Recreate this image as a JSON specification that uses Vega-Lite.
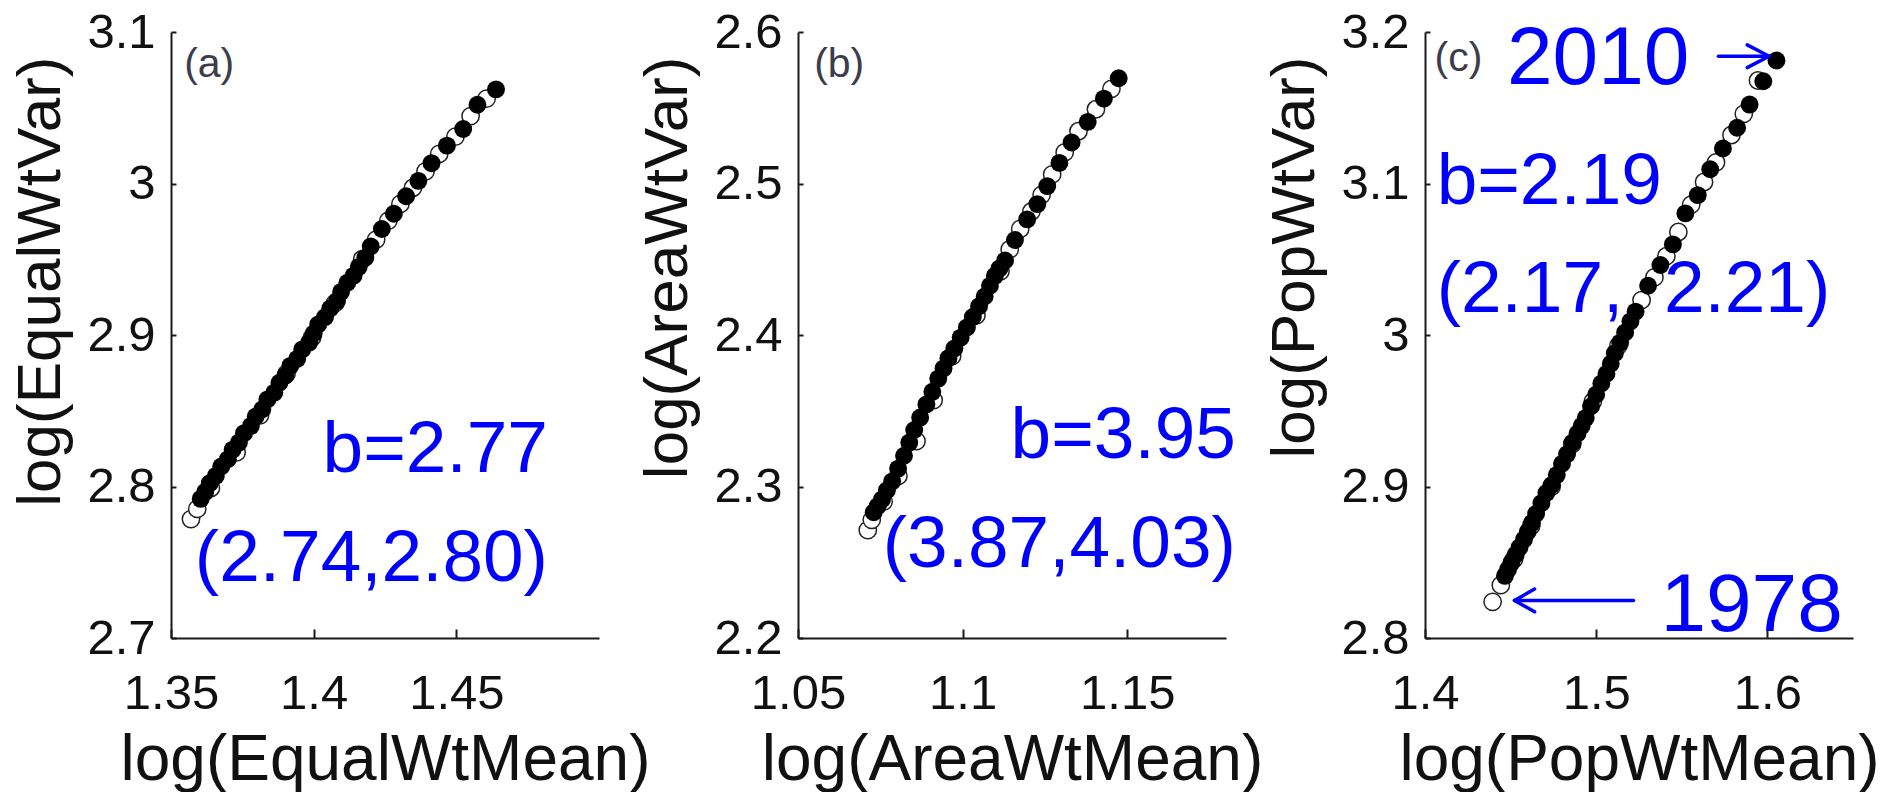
{
  "$schema": "https://vega.github.io/schema/vega-lite/v6.json",
  "background": "white",
  "padding": {"left": 8, "top": 8, "right": 0, "bottom": 0},
  "spacing": 199,
  "bounds": "flush",
  "datasets": {
    "a": [
      {"m": 1.3570, "v": 2.7785, "s": "o"}, {"m": 1.3592, "v": 2.7852, "s": "o"}, {"m": 1.3640, "v": 2.7990, "s": "o"},
      {"m": 1.3730, "v": 2.8225, "s": "o"}, {"m": 1.3812, "v": 2.8470, "s": "o"}, {"m": 1.3905, "v": 2.8745, "s": "o"},
      {"m": 1.3995, "v": 2.8985, "s": "o"}, {"m": 1.4075, "v": 2.9210, "s": "o"}, {"m": 1.4170, "v": 2.9500, "s": "o"},
      {"m": 1.4219, "v": 2.9630, "s": "o"}, {"m": 1.4262, "v": 2.9755, "s": "o"}, {"m": 1.4304, "v": 2.9865, "s": "o"},
      {"m": 1.4348, "v": 2.9972, "s": "o"}, {"m": 1.4392, "v": 3.0080, "s": "o"}, {"m": 1.4440, "v": 3.0195, "s": "o"},
      {"m": 1.4497, "v": 3.0310, "s": "o"}, {"m": 1.4550, "v": 3.0445, "s": "o"}, {"m": 1.4606, "v": 3.0560, "s": "o"},
      {"m": 1.4639, "v": 3.0621, "s": "f"}, {"m": 1.4574, "v": 3.0520, "s": "f"}, {"m": 1.4524, "v": 3.0360, "s": "f"},
      {"m": 1.4467, "v": 3.0250, "s": "f"}, {"m": 1.4413, "v": 3.0134, "s": "f"}, {"m": 1.4367, "v": 3.0017, "s": "f"},
      {"m": 1.4324, "v": 2.9916, "s": "f"}, {"m": 1.4281, "v": 2.9800, "s": "f"}, {"m": 1.4239, "v": 2.9700, "s": "f"},
      {"m": 1.4200, "v": 2.9585, "s": "f"}, {"m": 1.4181, "v": 2.9510, "s": "f"}, {"m": 1.4158, "v": 2.9450, "s": "f"},
      {"m": 1.4140, "v": 2.9392, "s": "f"}, {"m": 1.4118, "v": 2.9345, "s": "f"}, {"m": 1.4096, "v": 2.9285, "s": "f"},
      {"m": 1.4082, "v": 2.9225, "s": "f"}, {"m": 1.4058, "v": 2.9175, "s": "f"}, {"m": 1.4040, "v": 2.9118, "s": "f"},
      {"m": 1.4016, "v": 2.9070, "s": "f"}, {"m": 1.4000, "v": 2.9010, "s": "f"}, {"m": 1.3984, "v": 2.8950, "s": "f"},
      {"m": 1.3960, "v": 2.8905, "s": "f"}, {"m": 1.3942, "v": 2.8842, "s": "f"}, {"m": 1.3918, "v": 2.8796, "s": "f"},
      {"m": 1.3901, "v": 2.8732, "s": "f"}, {"m": 1.3880, "v": 2.8685, "s": "f"}, {"m": 1.3862, "v": 2.8620, "s": "f"},
      {"m": 1.3838, "v": 2.8575, "s": "f"}, {"m": 1.3820, "v": 2.8510, "s": "f"}, {"m": 1.3797, "v": 2.8462, "s": "f"},
      {"m": 1.3780, "v": 2.8400, "s": "f"}, {"m": 1.3756, "v": 2.8352, "s": "f"}, {"m": 1.3738, "v": 2.8290, "s": "f"},
      {"m": 1.3716, "v": 2.8243, "s": "f"}, {"m": 1.3699, "v": 2.8180, "s": "f"}, {"m": 1.3676, "v": 2.8132, "s": "f"},
      {"m": 1.3657, "v": 2.8070, "s": "f"}, {"m": 1.3636, "v": 2.8022, "s": "f"}, {"m": 1.3620, "v": 2.7965, "s": "f"},
      {"m": 1.3604, "v": 2.7918, "s": "f"}
    ],
    "b": [
      {"m": 1.0712, "v": 2.2712, "s": "o"}, {"m": 1.0724, "v": 2.2780, "s": "o"}, {"m": 1.0760, "v": 2.2900, "s": "o"},
      {"m": 1.0805, "v": 2.3070, "s": "o"}, {"m": 1.0860, "v": 2.3300, "s": "o"}, {"m": 1.0912, "v": 2.3570, "s": "o"},
      {"m": 1.0968, "v": 2.3860, "s": "o"}, {"m": 1.1042, "v": 2.4130, "s": "o"}, {"m": 1.1115, "v": 2.4420, "s": "o"},
      {"m": 1.1143, "v": 2.4565, "s": "o"}, {"m": 1.1175, "v": 2.4700, "s": "o"}, {"m": 1.1209, "v": 2.4815, "s": "o"},
      {"m": 1.1240, "v": 2.4925, "s": "o"}, {"m": 1.1272, "v": 2.5060, "s": "o"}, {"m": 1.1310, "v": 2.5205, "s": "o"},
      {"m": 1.1352, "v": 2.5345, "s": "o"}, {"m": 1.1405, "v": 2.5490, "s": "o"}, {"m": 1.1452, "v": 2.5625, "s": "o"},
      {"m": 1.1474, "v": 2.5695, "s": "f"}, {"m": 1.1429, "v": 2.5560, "s": "f"}, {"m": 1.1380, "v": 2.5407, "s": "f"},
      {"m": 1.1331, "v": 2.5271, "s": "f"}, {"m": 1.1294, "v": 2.5136, "s": "f"}, {"m": 1.1257, "v": 2.4983, "s": "f"},
      {"m": 1.1227, "v": 2.4864, "s": "f"}, {"m": 1.1196, "v": 2.4763, "s": "f"}, {"m": 1.1159, "v": 2.4627, "s": "f"},
      {"m": 1.1129, "v": 2.4492, "s": "f"}, {"m": 1.1112, "v": 2.4440, "s": "f"}, {"m": 1.1098, "v": 2.4390, "s": "f"},
      {"m": 1.1083, "v": 2.4325, "s": "f"}, {"m": 1.1067, "v": 2.4254, "s": "f"}, {"m": 1.1050, "v": 2.4190, "s": "f"},
      {"m": 1.1031, "v": 2.4119, "s": "f"}, {"m": 1.1013, "v": 2.4050, "s": "f"}, {"m": 1.0994, "v": 2.3983, "s": "f"},
      {"m": 1.0975, "v": 2.3912, "s": "f"}, {"m": 1.0957, "v": 2.3847, "s": "f"}, {"m": 1.0942, "v": 2.3780, "s": "f"},
      {"m": 1.0926, "v": 2.3712, "s": "f"}, {"m": 1.0908, "v": 2.3625, "s": "f"}, {"m": 1.0890, "v": 2.3542, "s": "f"},
      {"m": 1.0871, "v": 2.3455, "s": "f"}, {"m": 1.0853, "v": 2.3373, "s": "f"}, {"m": 1.0838, "v": 2.3290, "s": "f"},
      {"m": 1.0822, "v": 2.3203, "s": "f"}, {"m": 1.0804, "v": 2.3118, "s": "f"}, {"m": 1.0786, "v": 2.3034, "s": "f"},
      {"m": 1.0770, "v": 2.2975, "s": "f"}, {"m": 1.0755, "v": 2.2915, "s": "f"}, {"m": 1.0742, "v": 2.2870, "s": "f"},
      {"m": 1.0730, "v": 2.2830, "s": "f"}
    ],
    "c": [
      {"m": 1.4395, "v": 2.8239, "s": "o"}, {"m": 1.4443, "v": 2.8349, "s": "o"}, {"m": 1.4520, "v": 2.8520, "s": "o"},
      {"m": 1.4620, "v": 2.8740, "s": "o"}, {"m": 1.4740, "v": 2.9000, "s": "o"}, {"m": 1.4860, "v": 2.9280, "s": "o"},
      {"m": 1.4980, "v": 2.9560, "s": "o"}, {"m": 1.5130, "v": 2.9930, "s": "o"}, {"m": 1.5265, "v": 3.0230, "s": "o"},
      {"m": 1.5340, "v": 3.0380, "s": "o"}, {"m": 1.5410, "v": 3.0520, "s": "o"}, {"m": 1.5480, "v": 3.0680, "s": "o"},
      {"m": 1.5555, "v": 3.0860, "s": "o"}, {"m": 1.5630, "v": 3.1010, "s": "o"}, {"m": 1.5700, "v": 3.1140, "s": "o"},
      {"m": 1.5790, "v": 3.1320, "s": "o"}, {"m": 1.5862, "v": 3.1460, "s": "o"}, {"m": 1.5945, "v": 3.1680, "s": "o"},
      {"m": 1.6053, "v": 3.1812, "s": "f"}, {"m": 1.5976, "v": 3.1675, "s": "f"}, {"m": 1.5896, "v": 3.1521, "s": "f"},
      {"m": 1.5823, "v": 3.1368, "s": "f"}, {"m": 1.5740, "v": 3.1231, "s": "f"}, {"m": 1.5666, "v": 3.1094, "s": "f"},
      {"m": 1.5593, "v": 3.0923, "s": "f"}, {"m": 1.5521, "v": 3.0803, "s": "f"}, {"m": 1.5448, "v": 3.0598, "s": "f"},
      {"m": 1.5375, "v": 3.0462, "s": "f"}, {"m": 1.5303, "v": 3.0325, "s": "f"}, {"m": 1.5230, "v": 3.0154, "s": "f"},
      {"m": 1.5200, "v": 3.0090, "s": "f"}, {"m": 1.5169, "v": 3.0017, "s": "f"}, {"m": 1.5140, "v": 2.9950, "s": "f"},
      {"m": 1.5109, "v": 2.9880, "s": "f"}, {"m": 1.5085, "v": 2.9810, "s": "f"}, {"m": 1.5060, "v": 2.9744, "s": "f"},
      {"m": 1.5030, "v": 2.9680, "s": "f"}, {"m": 1.5000, "v": 2.9607, "s": "f"}, {"m": 1.4970, "v": 2.9530, "s": "f"},
      {"m": 1.4939, "v": 2.9453, "s": "f"}, {"m": 1.4915, "v": 2.9400, "s": "f"}, {"m": 1.4891, "v": 2.9350, "s": "f"},
      {"m": 1.4862, "v": 2.9290, "s": "f"}, {"m": 1.4830, "v": 2.9214, "s": "f"}, {"m": 1.4800, "v": 2.9150, "s": "f"},
      {"m": 1.4770, "v": 2.9077, "s": "f"}, {"m": 1.4740, "v": 2.9010, "s": "f"}, {"m": 1.4709, "v": 2.8957, "s": "f"},
      {"m": 1.4680, "v": 2.8890, "s": "f"}, {"m": 1.4649, "v": 2.8820, "s": "f"}, {"m": 1.4625, "v": 2.8760, "s": "f"},
      {"m": 1.4600, "v": 2.8701, "s": "f"}, {"m": 1.4578, "v": 2.8650, "s": "f"}, {"m": 1.4552, "v": 2.8598, "s": "f"},
      {"m": 1.4530, "v": 2.8550, "s": "f"}, {"m": 1.4504, "v": 2.8496, "s": "f"}, {"m": 1.4485, "v": 2.8452, "s": "f"},
      {"m": 1.4467, "v": 2.8410, "s": "f"}
    ],
    "a_txt": [
      {"m": 1.4821, "v": 2.8096, "t": "b=2.77"},
      {"m": 1.4821, "v": 2.7376, "t": "(2.74,2.80)"}
    ],
    "b_txt": [
      {"m": 1.1830, "v": 2.3188, "t": "b=3.95"},
      {"m": 1.1830, "v": 2.2470, "t": "(3.87,4.03)"}
    ],
    "c_txt": [
      {"m": 1.4068, "v": 3.0863, "t": "b=2.19"},
      {"m": 1.4068, "v": 3.0154, "t": "(2.17,\u00a0\u00a02.21)"}
    ],
    "c_years": [
      {"m": 1.4479, "v": 3.1656, "t": "2010"},
      {"m": 1.5375, "v": 2.8043, "t": "1978"}
    ],
    "c_arrows": [
      {"m": 1.5714, "v": 3.1840, "m2": 1.6010, "v2": 3.1840},
      {"m": 1.6010, "v": 3.1840, "m2": 1.5882, "v2": 3.1915},
      {"m": 1.6010, "v": 3.1840, "m2": 1.5882, "v2": 3.1765},
      {"m": 1.4523, "v": 2.8248, "m2": 1.5218, "v2": 2.8248},
      {"m": 1.4523, "v": 2.8248, "m2": 1.4640, "v2": 2.8323},
      {"m": 1.4523, "v": 2.8248, "m2": 1.4640, "v2": 2.8173}
    ],
    "labels": [
      {"p": "a", "m": 1.3546, "v": 3.0700, "t": "(a)"},
      {"p": "b", "m": 1.0549, "v": 2.5700, "t": "(b)"},
      {"p": "c", "m": 1.4056, "v": 3.1745, "t": "(c)"}
    ]
  },
  "hconcat": [
    {
      "width": 428, "height": 606,
      "encoding": {
        "x": {"field": "m", "type": "quantitative", "scale": {"domain": [1.35, 1.5], "nice": false, "zero": false},
              "axis": {"values": [1.35, 1.4, 1.45], "format": "~g", "title": "log(EqualWtMean)"}},
        "y": {"field": "v", "type": "quantitative", "scale": {"domain": [2.7, 3.1], "nice": false, "zero": false},
              "axis": {"values": [2.7, 2.8, 2.9, 3, 3.1], "format": "~g", "title": "log(EqualWtVar)"}}
      },
      "layer": [
        {"data": {"name": "a"}, "transform": [{"filter": "datum.s == 'o'"}],
         "mark": {"type": "circle", "fill": "white", "stroke": "#222", "strokeWidth": 1.5, "size": 300, "opacity": 1}},
        {"data": {"name": "a"}, "transform": [{"filter": "datum.s == 'f'"}],
         "mark": {"type": "circle", "color": "black", "size": 320, "opacity": 1}},
        {"data": {"name": "a_txt"},
         "mark": {"type": "text", "align": "right", "baseline": "alphabetic", "font": "Liberation Sans", "fontSize": 73, "color": "#0000ff"},
         "encoding": {"text": {"field": "t", "type": "nominal"}}},
        {"data": {"name": "labels"}, "transform": [{"filter": "datum.p == 'a'"}],
         "mark": {"type": "text", "align": "left", "baseline": "alphabetic", "font": "Liberation Sans", "fontSize": 41, "color": "#3c3c4c"},
         "encoding": {"text": {"field": "t", "type": "nominal"}}}
      ]
    },
    {
      "width": 428, "height": 606,
      "encoding": {
        "x": {"field": "m", "type": "quantitative", "scale": {"domain": [1.05, 1.18], "nice": false, "zero": false},
              "axis": {"values": [1.05, 1.1, 1.15], "format": "~g", "title": "log(AreaWtMean)"}},
        "y": {"field": "v", "type": "quantitative", "scale": {"domain": [2.2, 2.6], "nice": false, "zero": false},
              "axis": {"values": [2.2, 2.3, 2.4, 2.5, 2.6], "format": "~g", "title": "log(AreaWtVar)"}}
      },
      "layer": [
        {"data": {"name": "b"}, "transform": [{"filter": "datum.s == 'o'"}],
         "mark": {"type": "circle", "fill": "white", "stroke": "#222", "strokeWidth": 1.5, "size": 300, "opacity": 1}},
        {"data": {"name": "b"}, "transform": [{"filter": "datum.s == 'f'"}],
         "mark": {"type": "circle", "color": "black", "size": 320, "opacity": 1}},
        {"data": {"name": "b_txt"},
         "mark": {"type": "text", "align": "right", "baseline": "alphabetic", "font": "Liberation Sans", "fontSize": 73, "color": "#0000ff"},
         "encoding": {"text": {"field": "t", "type": "nominal"}}},
        {"data": {"name": "labels"}, "transform": [{"filter": "datum.p == 'b'"}],
         "mark": {"type": "text", "align": "left", "baseline": "alphabetic", "font": "Liberation Sans", "fontSize": 41, "color": "#3c3c4c"},
         "encoding": {"text": {"field": "t", "type": "nominal"}}}
      ]
    },
    {
      "width": 428, "height": 606,
      "encoding": {
        "x": {"field": "m", "type": "quantitative", "scale": {"domain": [1.4, 1.65], "nice": false, "zero": false},
              "axis": {"values": [1.4, 1.5, 1.6], "format": "~g", "title": "log(PopWtMean)"}},
        "y": {"field": "v", "type": "quantitative", "scale": {"domain": [2.8, 3.2], "nice": false, "zero": false},
              "axis": {"values": [2.8, 2.9, 3, 3.1, 3.2], "format": "~g", "title": "log(PopWtVar)"}}
      },
      "layer": [
        {"data": {"name": "c"}, "transform": [{"filter": "datum.s == 'o'"}],
         "mark": {"type": "circle", "fill": "white", "stroke": "#222", "strokeWidth": 1.5, "size": 300, "opacity": 1}},
        {"data": {"name": "c"}, "transform": [{"filter": "datum.s == 'f'"}],
         "mark": {"type": "circle", "color": "black", "size": 320, "opacity": 1}},
        {"data": {"name": "c_arrows"},
         "mark": {"type": "rule", "color": "#0000ff", "strokeWidth": 3.5, "strokeCap": "round"},
         "encoding": {"x2": {"field": "m2"}, "y2": {"field": "v2"}}},
        {"data": {"name": "c_txt"},
         "mark": {"type": "text", "align": "left", "baseline": "alphabetic", "font": "Liberation Sans", "fontSize": 73, "color": "#0000ff"},
         "encoding": {"text": {"field": "t", "type": "nominal"}}},
        {"data": {"name": "c_years"},
         "mark": {"type": "text", "align": "left", "baseline": "alphabetic", "font": "Liberation Sans", "fontSize": 82, "color": "#0000ff"},
         "encoding": {"text": {"field": "t", "type": "nominal"}}},
        {"data": {"name": "labels"}, "transform": [{"filter": "datum.p == 'c'"}],
         "mark": {"type": "text", "align": "left", "baseline": "alphabetic", "font": "Liberation Sans", "fontSize": 41, "color": "#3c3c4c"},
         "encoding": {"text": {"field": "t", "type": "nominal"}}}
      ]
    }
  ],
  "config": {
    "view": {"stroke": null},
    "font": "Liberation Sans",
    "axis": {
      "grid": false,
      "domainColor": "#1a1a1a", "domainWidth": 2,
      "tickColor": "#1a1a1a", "tickWidth": 2,
      "labelColor": "#111", "titleColor": "#111",
      "labelFont": "Liberation Sans",
      "labelFontSize": 49,
      "titleFontWeight": "normal",
      "labelFlush": false, "labelOverlap": false, "labelBound": false
    },
    "axisX": {
      "tickSize": -9, "labelPadding": 79, "labelBaseline": "alphabetic",
      "titleFont": "Liberation Sans",
      "titleFontSize": 64, "titleY": 141, "titleBaseline": "alphabetic"
    },
    "axisY": {
      "tickSize": -5, "labelPadding": 21,
      "titleFont": "Liberation Sans", "titleFontSize": 62,
      "titleX": -112, "titleY": 24, "titleAlign": "right", "titleBaseline": "alphabetic", "titleAngle": -90
    }
  }
}
